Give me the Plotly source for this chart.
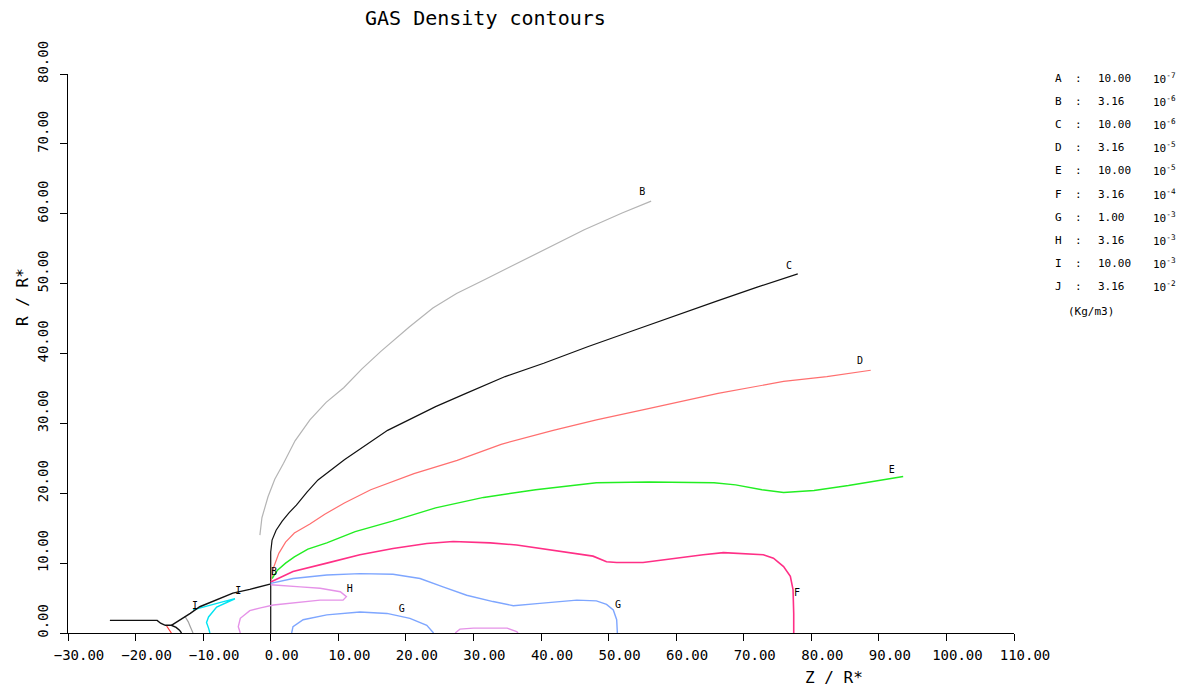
import plotly.graph_objects as go

# ---------------- data (Z / R*, R / R*) ----------------
B_z = [-1.6, -1.3, -0.4, 0.6, 1.9, 3.6, 5.8, 8.2, 10.8, 13.5, 16.3, 20.5, 24.0, 27.5, 31.7, 36.2, 41.9, 46.4, 52.0, 56.3]
B_r = [14.0, 16.5, 19.5, 22.0, 24.3, 27.5, 30.5, 33.0, 35.1, 37.8, 40.3, 43.8, 46.5, 48.6, 50.6, 52.8, 55.5, 57.7, 60.1, 61.8]

C_z = [0, 0, 0.2, 0.8, 1.7, 2.7, 3.8, 5.4, 7.0, 10.9, 17.3, 24.4, 28.9, 34.7, 40.4, 47.0, 54.0, 60.0, 66.0, 72.0, 78.0]
C_r = [0, 11.6, 13.3, 14.7, 16.0, 17.2, 18.3, 20.2, 21.9, 24.8, 29.0, 32.4, 34.3, 36.7, 38.6, 41.0, 43.4, 45.5, 47.5, 49.5, 51.4]

D_z = [0.1, 0.4, 1.2, 2.2, 3.5, 5.8, 8.0, 10.9, 14.8, 21.2, 27.6, 34.1, 41.8, 48.2, 55.9, 66.2, 75.9, 82.3, 88.8]
D_r = [7.6, 9.3, 11.4, 13.0, 14.3, 15.6, 17.0, 18.6, 20.5, 22.8, 24.7, 27.0, 29.0, 30.5, 32.1, 34.3, 36.0, 36.7, 37.6]

E_z = [0.2, 1.0, 2.2, 3.5, 5.5, 8.3, 12.5, 18.0, 24.4, 31.5, 39.2, 48.2, 56.0, 65.6, 68.8, 72.7, 75.9, 80.4, 85.5, 88.8, 93.6]
E_r = [7.8, 9.0, 10.0, 10.9, 12.0, 12.9, 14.5, 16.0, 17.9, 19.4, 20.5, 21.5, 21.6, 21.5, 21.2, 20.5, 20.1, 20.4, 21.1, 21.6, 22.4]

F_z = [0.0, 3.3, 8.3, 13.2, 18.1, 23.1, 27.0, 32.5, 36.4, 39.9, 44.3, 47.7, 49.7, 51.2, 55.1, 59.6, 64.0, 67.0, 69.9, 72.9, 74.4, 75.9, 76.9, 77.3, 77.4, 77.4]
F_r = [7.3, 8.8, 10.0, 11.2, 12.1, 12.8, 13.1, 12.9, 12.6, 12.1, 11.5, 11.0, 10.2, 10.1, 10.1, 10.7, 11.2, 11.5, 11.4, 11.2, 10.7, 9.5, 8.1, 6.2, 2.8, 0.0]

G1_z = [0.0, 3.3, 8.3, 13.2, 18.1, 22.1, 25.5, 29.0, 32.9, 35.9, 39.4, 42.8, 45.3, 48.2, 49.7, 50.7, 51.2, 51.3]
G1_r = [7.1, 7.8, 8.3, 8.5, 8.4, 7.8, 6.6, 5.4, 4.5, 3.9, 4.2, 4.5, 4.7, 4.6, 4.1, 3.3, 1.9, 0.0]
G2_z = [3.1, 3.3, 4.8, 8.3, 13.2, 17.2, 20.6, 23.1, 24.1]
G2_r = [0.0, 0.9, 1.9, 2.6, 3.0, 2.8, 2.1, 1.1, 0.0]

H1_z = [0.0, 2.0, 4.4, 7.3, 10.3, 11.2, 10.7, 7.3, 3.3, 0.4, -1.5, -3.1, -4.5, -4.8, -4.5]
H1_r = [6.9, 6.8, 6.6, 6.4, 5.9, 5.2, 4.7, 4.7, 4.3, 4.0, 3.6, 3.2, 2.1, 0.9, 0.0]
H2_z = [27.3, 28.0, 30.0, 35.0, 36.4, 36.6]
H2_r = [0.0, 0.55, 0.7, 0.7, 0.2, 0.0]

I_z = [-11.5, -9.0, -7.0, -5.3, -6.5, -8.0, -9.2, -9.5, -9.2, -9.0]
I_r = [3.3, 4.0, 4.5, 4.9, 4.4, 3.7, 2.3, 1.5, 0.7, 0.0]

# inner (star side) pieces
Bl_z = [-12.7, -12.2, -11.9, -11.5]
Bl_r = [2.4, 1.6, 0.9, 0.0]
Rl_z = [-15.4, -15.0, -14.7]
Rl_r = [1.0, 0.5, 0.0]
Kb_z = [-23.8, -16.8, -16.3, -15.6, -14.7, -14.0, -13.5, -13.2]
Kb_r = [1.8, 1.8, 1.4, 1.1, 1.1, 0.8, 0.4, 0.0]
Kd_z = [-14.7, -13.4, -11.9, -10.5, -8.0, -5.6, -3.1, -0.1]
Kd_r = [1.1, 1.86, 2.8, 3.76, 4.7, 5.7, 6.25, 7.0]

# contour labels
lab_text = ["B", "C", "D", "E", "F", "G", "G", "H", "I", "I", "B"]
lab_z = [55.0, 76.7, 87.2, 91.9, 77.9, 19.4, 51.4, 11.7, -11.2, -4.8, 0.5]
lab_r = [63.1, 52.5, 38.8, 23.3, 5.6, 3.3, 4.0, 6.2, 3.8, 5.9, 8.6]

# legend table
leg_letters = ["A", "B", "C", "D", "E", "F", "G", "H", "I", "J"]
leg_values = ["10.00", "3.16", "10.00", "3.16", "10.00", "3.16", "1.00", "3.16", "10.00", "3.16"]
leg_exps = ["-7", "-6", "-6", "-5", "-5", "-4", "-3", "-3", "-3", "-2"]
unit_text = "(Kg/m3)"

x_ticks = list(range(-30, 111, 10))
y_ticks = list(range(0, 81, 10))

# ---------------- figure ----------------
FONT = "DejaVu Sans Mono"
W, H = 1192, 688
ML, MR, MT, MB = 68, 178, 74, 55
PW, PH = W - ML - MR, H - MT - MB


def px(xp):
    return (xp - ML) / PW


def py(yp):
    return (H - MB - yp) / PH


fig = go.Figure()


def add_line(z, r, color, width=1.2):
    fig.add_trace(go.Scatter(x=z, y=r, mode="lines", line=dict(color=color, width=width),
                             showlegend=False, hoverinfo="skip"))


add_line(B_z, B_r, "#b4b4b4")
add_line(C_z, C_r, "#111111")
add_line(D_z, D_r, "#ff6f6f")
add_line(E_z, E_r, "#22ee22", 1.4)
add_line(F_z, F_r, "#ff2f86", 1.6)
add_line(G1_z, G1_r, "#7ea6ff", 1.4)
add_line(G2_z, G2_r, "#7ea6ff", 1.4)
add_line(H1_z, H1_r, "#e592e8", 1.4)
add_line(H2_z, H2_r, "#e592e8", 1.4)
add_line(I_z, I_r, "#00e4f2", 1.4)
add_line(Bl_z, Bl_r, "#a0a0a0")
add_line(Rl_z, Rl_r, "#ff3a3a")
add_line(Kb_z, Kb_r, "#111111", 1.4)
add_line(Kd_z, Kd_r, "#111111", 1.4)

fig.add_trace(go.Scatter(x=lab_z, y=lab_r, mode="text", text=lab_text,
                         textfont=dict(family=FONT, size=10, color="black"),
                         showlegend=False, hoverinfo="skip"))

ann = []
ann.append(dict(x=px(485), y=py(18), xref="paper", yref="paper", text="GAS Density contours",
                showarrow=False, font=dict(family=FONT, size=20, color="black"),
                xanchor="center", yanchor="middle"))
ann.append(dict(x=px(834), y=py(677), xref="paper", yref="paper", text="Z / R*",
                showarrow=False, font=dict(family=FONT, size=16, color="black"),
                xanchor="center", yanchor="middle"))
ann.append(dict(x=px(22), y=py(297), xref="paper", yref="paper", text="R / R*", textangle=-90,
                showarrow=False, font=dict(family=FONT, size=16, color="black"),
                xanchor="center", yanchor="middle"))

for i, (L, v, e) in enumerate(zip(leg_letters, leg_values, leg_exps)):
    yy = py(78 + 23.2 * i)
    f = dict(family=FONT, size=11, color="black")
    ann.append(dict(x=px(1058), y=yy, xref="paper", yref="paper", text=L, showarrow=False,
                    font=f, xanchor="center", yanchor="middle"))
    ann.append(dict(x=px(1078), y=yy, xref="paper", yref="paper", text=":", showarrow=False,
                    font=f, xanchor="center", yanchor="middle"))
    ann.append(dict(x=px(1096), y=yy, xref="paper", yref="paper", text=v, showarrow=False,
                    font=f, xanchor="left", yanchor="middle"))
    ann.append(dict(x=px(1151), y=yy, xref="paper", yref="paper",
                    text="10<sup>" + e + "</sup>", showarrow=False,
                    font=f, xanchor="left", yanchor="middle"))
ann.append(dict(x=px(1066), y=py(311), xref="paper", yref="paper", text=unit_text, showarrow=False,
                font=dict(family=FONT, size=11, color="black"), xanchor="left", yanchor="middle"))

axis_common = dict(showgrid=False, zeroline=False, showline=True, linecolor="black", linewidth=1,
                   ticks="outside", ticklen=7, tickcolor="black", tickwidth=1,
                   tickformat=".2f", tickfont=dict(family=FONT, size=14, color="black"))

fig.update_layout(
    width=W, height=H,
    margin=dict(l=ML, r=MR, t=MT, b=MB, pad=0),
    paper_bgcolor="white", plot_bgcolor="white",
    font=dict(family=FONT, color="black"),
    annotations=ann,
    xaxis=dict(range=[-30, 110], tickvals=x_ticks, ticklabelshift=11, ticklabelstandoff=2, **axis_common),
    yaxis=dict(range=[0, 80], tickvals=y_ticks, tickangle=-90, ticklabelshift=-10,
               ticklabelstandoff=6, **axis_common),
    showlegend=False,
)

fig.write_html("out.html")
